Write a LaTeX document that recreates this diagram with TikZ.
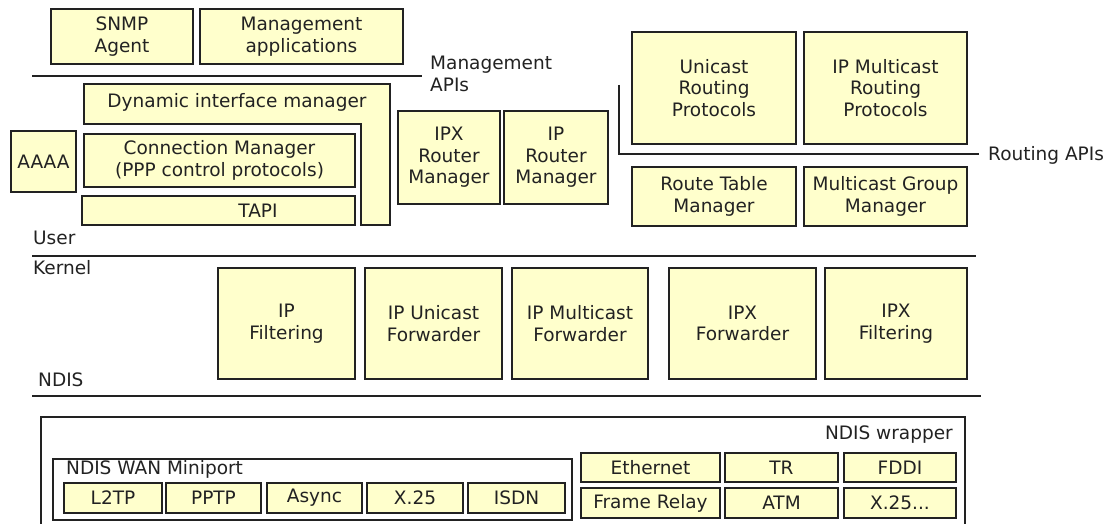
\documentclass[tikz,border=0pt]{standalone}
\usepackage{fontspec}
\setmainfont{DejaVu Sans}
\newcommand{\dfont}{\fontsize{18.5}{21.5}\selectfont}
\definecolor{boxfill}{HTML}{FFFFCC}
\definecolor{ink}{HTML}{222222}
\begin{document}
\begin{tikzpicture}[x=1pt,y=-1pt,
  box/.style={draw=ink, line width=1.4pt, fill=boxfill, inner sep=0pt, align=center, font=\dfont, text=ink},
  plain/.style={inner sep=0pt, font=\dfont, text=ink, align=left},
  rule/.style={draw=ink, line width=1.5pt}]
\useasboundingbox[fill=white] (0,0) rectangle (1112,524);

% top management layer
\node[box, minimum width=142pt, minimum height=55pt] (snmp) at (122,36.5) {SNMP\\Agent};
\node[box, minimum width=203pt, minimum height=55pt] (mgmt) at (301.5,36.5) {Management\\applications};
\coordinate (mgL) at (32,76);
\coordinate (mgR) at (422,76);
\draw[rule] (mgL) -- (mgR);
\node[plain, anchor=west] (mgapi) at (430,74) {Management\\APIs};

% dynamic interface manager (L shape)
\draw[draw=ink, line width=1.4pt, fill=boxfill] (84,84) -- (390,84) -- (390,225) -- (361,225) -- (361,124) -- (84,124) -- cycle;
\node[plain] (dim) at (237,102) {Dynamic interface manager};

\node[box, minimum width=65pt, minimum height=61pt] (aaaa) at (43.5,161.5) {AAAA};
\node[box, minimum width=271pt, minimum height=53pt] (conn) at (219.5,160.5) {Connection Manager\\(PPP control protocols)};
\node[box, minimum width=273pt, minimum height=29pt] (tapi) at (218.5,210.5) {\hspace*{79pt}TAPI};

\node[box, minimum width=102pt, minimum height=93pt] (ipxrm) at (449,157.5) {IPX\\Router\\Manager};
\node[box, minimum width=104pt, minimum height=93pt] (iprm) at (556,157.5) {IP\\Router\\Manager};

% routing
\node[box, minimum width=164pt, minimum height=112pt] (ucast) at (714,88) {Unicast\\Routing\\Protocols};
\node[box, minimum width=163pt, minimum height=112pt] (mcast) at (885.5,88) {IP Multicast\\Routing\\Protocols};
\node[box, minimum width=164pt, minimum height=59pt] (rtm) at (714,196.5) {Route Table\\Manager};
\node[box, minimum width=163pt, minimum height=59pt] (mgm) at (885.5,196.5) {Multicast Group\\Manager};
\coordinate (raT) at (619,85);
\coordinate (raC) at (619,154);
\coordinate (raR) at (979,154);
\draw[rule] (raT) -- (raC) -- (raR);
\node[plain, anchor=base west] (rapi) at (988,161) {Routing APIs};

% user / kernel
\node[plain, anchor=base west] (user) at (33,244) {User};
\coordinate (kL) at (32,256);
\coordinate (kR) at (976,256);
\draw[rule] (kL) -- (kR);
\node[plain, anchor=base west] (kernel) at (33,274) {Kernel};

\node[box, minimum width=137pt, minimum height=111pt] (ipfilt) at (286.5,323.5) {IP\\Filtering};
\node[box, minimum width=137pt, minimum height=111pt] (ipuf) at (433.5,323.5) {IP Unicast\\Forwarder};
\node[box, minimum width=136pt, minimum height=111pt] (ipmf) at (580,323.5) {IP Multicast\\Forwarder};
\node[box, minimum width=147pt, minimum height=111pt] (ipxf) at (742.5,323.5) {IPX\\Forwarder};
\node[box, minimum width=142pt, minimum height=111pt] (ipxfilt) at (896,323.5) {IPX\\Filtering};

\node[plain, anchor=base west] (ndis) at (38,386) {NDIS};
\coordinate (nL) at (32,396);
\coordinate (nR) at (981,396);
\draw[rule] (nL) -- (nR);

% NDIS wrapper
\draw[draw=ink, line width=1.4pt] (41,530) -- (41,417) -- (965,417) -- (965,530);
\node[plain, anchor=base east] (wraptxt) at (953,439) {NDIS wrapper};

\node[draw=ink, line width=1.4pt, fill=white, inner sep=0pt, minimum width=519pt, minimum height=61pt] (wan) at (312.5,489.5) {};
\node[plain, anchor=base west] (wantxt) at (66,474) {NDIS WAN Miniport};

\node[box, minimum width=98pt, minimum height=30pt] (l2tp) at (113,498) {L2TP};
\node[box, minimum width=95pt, minimum height=30pt] (pptp) at (213.5,498) {PPTP};
\node[box, minimum width=95pt, minimum height=30pt] (async) at (314.5,498) {Async};
\node[box, minimum width=96pt, minimum height=30pt] (xa) at (415,498) {X.25};
\node[box, minimum width=97pt, minimum height=30pt] (isdn) at (516.5,498) {ISDN};

\node[box, minimum width=139pt, minimum height=29pt] (eth) at (650.5,467.5) {Ethernet};
\node[box, minimum width=113pt, minimum height=29pt] (tr) at (781.5,467.5) {TR};
\node[box, minimum width=112pt, minimum height=29pt] (fddi) at (900,467.5) {FDDI};
\node[box, minimum width=139pt, minimum height=30pt] (fr) at (650.5,503) {Frame Relay};
\node[box, minimum width=113pt, minimum height=30pt] (atm) at (781.5,503) {ATM};
\node[box, minimum width=112pt, minimum height=30pt] (xb) at (900,503) {X.25...};
\end{tikzpicture}
\end{document}
